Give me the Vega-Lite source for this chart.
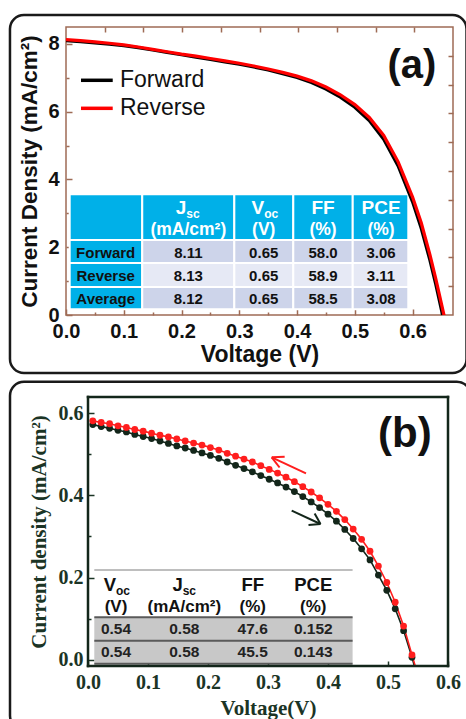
{
  "$schema": "https://vega.github.io/schema/vega-lite/v6.json",
  "background": "white",
  "padding": {"left": 6, "top": 13, "right": 0, "bottom": 0},
  "spacing": 3,
  "config": {
    "view": {"stroke": null},
    "axis": {"grid": false, "domain": false, "labelFlush": false, "labelOverlap": false}
  },
  "resolve": {"scale": {"color": "independent", "fill": "independent"}, "legend": {"color": "independent"}},
  "datasets": {
    "frameA": [{"x1": -0.097, "x2": 0.6934, "y1": -1.712, "y2": 8.854}],
    "frameB": [{"x1": -0.13, "x2": 0.638, "y1": -0.17, "y2": 0.6762}],
    "plotEdgesB": [
      {"x1": 0, "x2": 0.6, "y1": 0.639, "y2": 0.639},
      {"x1": 0, "x2": 0.6, "y1": -0.015, "y2": -0.015},
      {"x1": 0, "x2": 0, "y1": -0.015, "y2": 0.639},
      {"x1": 0.6, "x2": 0.6, "y1": -0.015, "y2": 0.639}
    ],
    "curvesA": [
      {"V": 0.000, "J": 8.10, "scan": "Forward"}, {"V": 0.025, "J": 8.07, "scan": "Forward"},
      {"V": 0.050, "J": 8.03, "scan": "Forward"}, {"V": 0.075, "J": 7.99, "scan": "Forward"},
      {"V": 0.100, "J": 7.95, "scan": "Forward"}, {"V": 0.125, "J": 7.89, "scan": "Forward"},
      {"V": 0.150, "J": 7.82, "scan": "Forward"}, {"V": 0.175, "J": 7.75, "scan": "Forward"},
      {"V": 0.200, "J": 7.68, "scan": "Forward"}, {"V": 0.225, "J": 7.61, "scan": "Forward"},
      {"V": 0.250, "J": 7.54, "scan": "Forward"}, {"V": 0.275, "J": 7.47, "scan": "Forward"},
      {"V": 0.300, "J": 7.40, "scan": "Forward"}, {"V": 0.325, "J": 7.32, "scan": "Forward"},
      {"V": 0.350, "J": 7.23, "scan": "Forward"}, {"V": 0.375, "J": 7.12, "scan": "Forward"},
      {"V": 0.400, "J": 7.01, "scan": "Forward"}, {"V": 0.425, "J": 6.86, "scan": "Forward"},
      {"V": 0.450, "J": 6.67, "scan": "Forward"}, {"V": 0.475, "J": 6.43, "scan": "Forward"},
      {"V": 0.500, "J": 6.13, "scan": "Forward"}, {"V": 0.525, "J": 5.74, "scan": "Forward"},
      {"V": 0.550, "J": 5.19, "scan": "Forward"}, {"V": 0.575, "J": 4.40, "scan": "Forward"},
      {"V": 0.600, "J": 3.34, "scan": "Forward"}, {"V": 0.615, "J": 2.56, "scan": "Forward"},
      {"V": 0.630, "J": 1.62, "scan": "Forward"}, {"V": 0.640, "J": 0.92, "scan": "Forward"},
      {"V": 0.650, "J": 0.15, "scan": "Forward"}, {"V": 0.653, "J": -0.08, "scan": "Forward"},
      {"V": 0.658, "J": -0.45, "scan": "Forward"},
      {"V": 0.000, "J": 8.13, "scan": "Reverse"}, {"V": 0.025, "J": 8.10, "scan": "Reverse"},
      {"V": 0.050, "J": 8.06, "scan": "Reverse"}, {"V": 0.075, "J": 8.02, "scan": "Reverse"},
      {"V": 0.100, "J": 7.97, "scan": "Reverse"}, {"V": 0.125, "J": 7.91, "scan": "Reverse"},
      {"V": 0.150, "J": 7.84, "scan": "Reverse"}, {"V": 0.175, "J": 7.77, "scan": "Reverse"},
      {"V": 0.200, "J": 7.70, "scan": "Reverse"}, {"V": 0.225, "J": 7.64, "scan": "Reverse"},
      {"V": 0.250, "J": 7.57, "scan": "Reverse"}, {"V": 0.275, "J": 7.50, "scan": "Reverse"},
      {"V": 0.300, "J": 7.43, "scan": "Reverse"}, {"V": 0.325, "J": 7.35, "scan": "Reverse"},
      {"V": 0.350, "J": 7.26, "scan": "Reverse"}, {"V": 0.375, "J": 7.16, "scan": "Reverse"},
      {"V": 0.400, "J": 7.05, "scan": "Reverse"}, {"V": 0.425, "J": 6.91, "scan": "Reverse"},
      {"V": 0.450, "J": 6.73, "scan": "Reverse"}, {"V": 0.475, "J": 6.50, "scan": "Reverse"},
      {"V": 0.500, "J": 6.21, "scan": "Reverse"}, {"V": 0.525, "J": 5.83, "scan": "Reverse"},
      {"V": 0.550, "J": 5.30, "scan": "Reverse"}, {"V": 0.575, "J": 4.52, "scan": "Reverse"},
      {"V": 0.600, "J": 3.48, "scan": "Reverse"}, {"V": 0.615, "J": 2.72, "scan": "Reverse"},
      {"V": 0.630, "J": 1.78, "scan": "Reverse"}, {"V": 0.640, "J": 1.08, "scan": "Reverse"},
      {"V": 0.650, "J": 0.33, "scan": "Reverse"}, {"V": 0.655, "J": -0.05, "scan": "Reverse"},
      {"V": 0.660, "J": -0.45, "scan": "Reverse"}
    ],
    "legendLinesA": [
      {"x1": 0.026, "x2": 0.0809, "y": 6.927, "scan": "Forward"},
      {"x1": 0.026, "x2": 0.0809, "y": 6.10, "scan": "Reverse"}
    ],
    "legendTextA": [
      {"x": 0.0935, "y": 6.927, "text": "Forward"},
      {"x": 0.0935, "y": 6.10, "text": "Reverse"}
    ],
    "cellsA": [
      {"x1": 0.0064, "x2": 0.132, "y1": 2.214, "y2": 3.563, "kind": "head"},
      {"x1": 0.132, "x2": 0.2914, "y1": 2.214, "y2": 3.563, "kind": "head"},
      {"x1": 0.2914, "x2": 0.3935, "y1": 2.214, "y2": 3.563, "kind": "head"},
      {"x1": 0.3935, "x2": 0.4964, "y1": 2.214, "y2": 3.563, "kind": "head"},
      {"x1": 0.4964, "x2": 0.5926, "y1": 2.214, "y2": 3.563, "kind": "head"},
      {"x1": 0.0064, "x2": 0.132, "y1": 1.535, "y2": 2.214, "kind": "head"},
      {"x1": 0.0064, "x2": 0.132, "y1": 0.826, "y2": 1.535, "kind": "head"},
      {"x1": 0.0064, "x2": 0.132, "y1": 0.168, "y2": 0.826, "kind": "head"},
      {"x1": 0.132, "x2": 0.2914, "y1": 1.535, "y2": 2.214, "kind": "odd"},
      {"x1": 0.2914, "x2": 0.3935, "y1": 1.535, "y2": 2.214, "kind": "odd"},
      {"x1": 0.3935, "x2": 0.4964, "y1": 1.535, "y2": 2.214, "kind": "odd"},
      {"x1": 0.4964, "x2": 0.5926, "y1": 1.535, "y2": 2.214, "kind": "odd"},
      {"x1": 0.132, "x2": 0.2914, "y1": 0.826, "y2": 1.535, "kind": "even"},
      {"x1": 0.2914, "x2": 0.3935, "y1": 0.826, "y2": 1.535, "kind": "even"},
      {"x1": 0.3935, "x2": 0.4964, "y1": 0.826, "y2": 1.535, "kind": "even"},
      {"x1": 0.4964, "x2": 0.5926, "y1": 0.826, "y2": 1.535, "kind": "even"},
      {"x1": 0.132, "x2": 0.2914, "y1": 0.168, "y2": 0.826, "kind": "odd"},
      {"x1": 0.2914, "x2": 0.3935, "y1": 0.168, "y2": 0.826, "kind": "odd"},
      {"x1": 0.3935, "x2": 0.4964, "y1": 0.168, "y2": 0.826, "kind": "odd"},
      {"x1": 0.4964, "x2": 0.5926, "y1": 0.168, "y2": 0.826, "kind": "odd"}
    ],
    "textA": [
      {"x": 0.2083, "y": 3.167, "text": "J", "role": "h1r"},
      {"x": 0.3433, "y": 3.167, "text": "V", "role": "h1r"},
      {"x": 0.2083, "y": 2.98, "text": "sc", "role": "sub"},
      {"x": 0.3433, "y": 2.98, "text": "oc", "role": "sub"},
      {"x": 0.445, "y": 3.167, "text": "FF", "role": "h1c"},
      {"x": 0.5454, "y": 3.167, "text": "PCE", "role": "h1c"},
      {"x": 0.2118, "y": 2.51, "text": "(mA/cm²)", "role": "h2"},
      {"x": 0.3423, "y": 2.51, "text": "(V)", "role": "h2"},
      {"x": 0.445, "y": 2.51, "text": "(%)", "role": "h2"},
      {"x": 0.5454, "y": 2.51, "text": "(%)", "role": "h2"},
      {"x": 0.0687, "y": 1.839, "text": "Forward", "role": "body"},
      {"x": 0.2118, "y": 1.839, "text": "8.11", "role": "body"},
      {"x": 0.3423, "y": 1.839, "text": "0.65", "role": "body"},
      {"x": 0.445, "y": 1.839, "text": "58.0", "role": "body"},
      {"x": 0.5454, "y": 1.839, "text": "3.06", "role": "body"},
      {"x": 0.0687, "y": 1.151, "text": "Reverse", "role": "body"},
      {"x": 0.2118, "y": 1.151, "text": "8.13", "role": "body"},
      {"x": 0.3423, "y": 1.151, "text": "0.65", "role": "body"},
      {"x": 0.445, "y": 1.151, "text": "58.9", "role": "body"},
      {"x": 0.5454, "y": 1.151, "text": "3.11", "role": "body"},
      {"x": 0.0687, "y": 0.481, "text": "Average", "role": "body"},
      {"x": 0.2118, "y": 0.481, "text": "8.12", "role": "body"},
      {"x": 0.3423, "y": 0.481, "text": "0.65", "role": "body"},
      {"x": 0.445, "y": 0.481, "text": "58.5", "role": "body"},
      {"x": 0.5454, "y": 0.481, "text": "3.08", "role": "body"}
    ],
    "labelA": [{"x": 0.599, "y": 7.35, "text": "(a)"}],
    "pointsB": [
      {"V": 0.008, "J": 0.572, "sweep": "Forward"}, {"V": 0.022, "J": 0.567, "sweep": "Forward"},
      {"V": 0.036, "J": 0.563, "sweep": "Forward"}, {"V": 0.050, "J": 0.558, "sweep": "Forward"},
      {"V": 0.064, "J": 0.554, "sweep": "Forward"}, {"V": 0.078, "J": 0.548, "sweep": "Forward"},
      {"V": 0.092, "J": 0.543, "sweep": "Forward"}, {"V": 0.106, "J": 0.538, "sweep": "Forward"},
      {"V": 0.120, "J": 0.532, "sweep": "Forward"}, {"V": 0.134, "J": 0.526, "sweep": "Forward"},
      {"V": 0.148, "J": 0.520, "sweep": "Forward"}, {"V": 0.162, "J": 0.515, "sweep": "Forward"},
      {"V": 0.176, "J": 0.509, "sweep": "Forward"}, {"V": 0.190, "J": 0.503, "sweep": "Forward"},
      {"V": 0.204, "J": 0.497, "sweep": "Forward"}, {"V": 0.218, "J": 0.490, "sweep": "Forward"},
      {"V": 0.232, "J": 0.481, "sweep": "Forward"}, {"V": 0.246, "J": 0.473, "sweep": "Forward"},
      {"V": 0.260, "J": 0.465, "sweep": "Forward"}, {"V": 0.274, "J": 0.457, "sweep": "Forward"},
      {"V": 0.288, "J": 0.448, "sweep": "Forward"}, {"V": 0.302, "J": 0.439, "sweep": "Forward"},
      {"V": 0.316, "J": 0.430, "sweep": "Forward"}, {"V": 0.330, "J": 0.420, "sweep": "Forward"},
      {"V": 0.344, "J": 0.409, "sweep": "Forward"}, {"V": 0.358, "J": 0.397, "sweep": "Forward"},
      {"V": 0.372, "J": 0.384, "sweep": "Forward"}, {"V": 0.386, "J": 0.370, "sweep": "Forward"},
      {"V": 0.400, "J": 0.354, "sweep": "Forward"}, {"V": 0.414, "J": 0.337, "sweep": "Forward"},
      {"V": 0.428, "J": 0.317, "sweep": "Forward"}, {"V": 0.442, "J": 0.295, "sweep": "Forward"},
      {"V": 0.456, "J": 0.270, "sweep": "Forward"}, {"V": 0.470, "J": 0.243, "sweep": "Forward"},
      {"V": 0.484, "J": 0.206, "sweep": "Forward"}, {"V": 0.498, "J": 0.169, "sweep": "Forward"},
      {"V": 0.512, "J": 0.124, "sweep": "Forward"}, {"V": 0.526, "J": 0.071, "sweep": "Forward"},
      {"V": 0.540, "J": 0.006, "sweep": "Forward"}, {"V": 0.552, "J": -0.058, "sweep": "Forward"},
      {"V": 0.008, "J": 0.581, "sweep": "Reverse"}, {"V": 0.022, "J": 0.577, "sweep": "Reverse"},
      {"V": 0.036, "J": 0.574, "sweep": "Reverse"}, {"V": 0.050, "J": 0.569, "sweep": "Reverse"},
      {"V": 0.064, "J": 0.565, "sweep": "Reverse"}, {"V": 0.078, "J": 0.560, "sweep": "Reverse"},
      {"V": 0.092, "J": 0.556, "sweep": "Reverse"}, {"V": 0.106, "J": 0.551, "sweep": "Reverse"},
      {"V": 0.120, "J": 0.546, "sweep": "Reverse"}, {"V": 0.134, "J": 0.542, "sweep": "Reverse"},
      {"V": 0.148, "J": 0.537, "sweep": "Reverse"}, {"V": 0.162, "J": 0.532, "sweep": "Reverse"},
      {"V": 0.176, "J": 0.527, "sweep": "Reverse"}, {"V": 0.190, "J": 0.522, "sweep": "Reverse"},
      {"V": 0.204, "J": 0.516, "sweep": "Reverse"}, {"V": 0.218, "J": 0.510, "sweep": "Reverse"},
      {"V": 0.232, "J": 0.502, "sweep": "Reverse"}, {"V": 0.246, "J": 0.495, "sweep": "Reverse"},
      {"V": 0.260, "J": 0.488, "sweep": "Reverse"}, {"V": 0.274, "J": 0.481, "sweep": "Reverse"},
      {"V": 0.288, "J": 0.472, "sweep": "Reverse"}, {"V": 0.302, "J": 0.463, "sweep": "Reverse"},
      {"V": 0.316, "J": 0.454, "sweep": "Reverse"}, {"V": 0.330, "J": 0.444, "sweep": "Reverse"},
      {"V": 0.344, "J": 0.433, "sweep": "Reverse"}, {"V": 0.358, "J": 0.421, "sweep": "Reverse"},
      {"V": 0.372, "J": 0.408, "sweep": "Reverse"}, {"V": 0.386, "J": 0.394, "sweep": "Reverse"},
      {"V": 0.400, "J": 0.378, "sweep": "Reverse"}, {"V": 0.414, "J": 0.361, "sweep": "Reverse"},
      {"V": 0.428, "J": 0.341, "sweep": "Reverse"}, {"V": 0.442, "J": 0.318, "sweep": "Reverse"},
      {"V": 0.456, "J": 0.293, "sweep": "Reverse"}, {"V": 0.470, "J": 0.264, "sweep": "Reverse"},
      {"V": 0.484, "J": 0.228, "sweep": "Reverse"}, {"V": 0.498, "J": 0.188, "sweep": "Reverse"},
      {"V": 0.512, "J": 0.140, "sweep": "Reverse"}, {"V": 0.526, "J": 0.082, "sweep": "Reverse"},
      {"V": 0.540, "J": 0.012, "sweep": "Reverse"}, {"V": 0.554, "J": -0.058, "sweep": "Reverse"}
    ],
    "cellsB": [
      {"x1": 0.0105, "x2": 0.441, "y1": 0.0461, "y2": 0.1037},
      {"x1": 0.0105, "x2": 0.441, "y1": -0.0097, "y2": 0.0461}
    ],
    "topLineB": [{"x1": 0.0105, "x2": 0.441, "y": 0.2186}],
    "linesB": [
      {"x1": 0.0105, "x2": 0.441, "y": 0.1037},
      {"x1": 0.0105, "x2": 0.441, "y": 0.0461},
      {"x1": 0.0105, "x2": 0.441, "y": -0.0097}
    ],
    "textB": [
      {"x": 0.0467, "y": 0.181, "text": "V", "role": "h1r"},
      {"x": 0.1578, "y": 0.181, "text": "J", "role": "h1r"},
      {"x": 0.0467, "y": 0.168, "text": "oc", "role": "sub"},
      {"x": 0.1578, "y": 0.168, "text": "sc", "role": "sub"},
      {"x": 0.2745, "y": 0.181, "text": "FF", "role": "h1c"},
      {"x": 0.3755, "y": 0.181, "text": "PCE", "role": "h1c"},
      {"x": 0.0467, "y": 0.1295, "text": "(V)", "role": "h2"},
      {"x": 0.1605, "y": 0.1295, "text": "(mA/cm²)", "role": "h2"},
      {"x": 0.2745, "y": 0.1295, "text": "(%)", "role": "h2"},
      {"x": 0.3755, "y": 0.1295, "text": "(%)", "role": "h2"},
      {"x": 0.0467, "y": 0.0753, "text": "0.54", "role": "body"},
      {"x": 0.1605, "y": 0.0753, "text": "0.58", "role": "body"},
      {"x": 0.2745, "y": 0.0753, "text": "47.6", "role": "body"},
      {"x": 0.3755, "y": 0.0753, "text": "0.152", "role": "body"},
      {"x": 0.0467, "y": 0.0194, "text": "0.54", "role": "body"},
      {"x": 0.1605, "y": 0.0194, "text": "0.58", "role": "body"},
      {"x": 0.2745, "y": 0.0194, "text": "45.5", "role": "body"},
      {"x": 0.3755, "y": 0.0194, "text": "0.143", "role": "body"}
    ],
    "arrowsB": [
      {"x": 0.3633, "y": 0.4535, "x2": 0.3062, "y2": 0.4924, "sweep": "Reverse"},
      {"x": 0.3062, "y": 0.4924, "x2": 0.3193, "y2": 0.4676, "sweep": "Reverse"},
      {"x": 0.3062, "y": 0.4924, "x2": 0.3278, "y2": 0.4938, "sweep": "Reverse"},
      {"x": 0.3395, "y": 0.3626, "x2": 0.3875, "y2": 0.3303, "sweep": "Forward"},
      {"x": 0.3875, "y": 0.3303, "x2": 0.3777, "y2": 0.3556, "sweep": "Forward"},
      {"x": 0.3875, "y": 0.3303, "x2": 0.3675, "y2": 0.3279, "sweep": "Forward"}
    ],
    "labelB": [{"x": 0.528, "y": 0.549, "text": "(b)"}]
  },
  "vconcat": [
    {
      "hconcat": [
        {"width": 1, "height": 1, "data": {"values": []}, "mark": "point", "encoding": {}},
        {
          "width": 387,
          "height": 288,
          "view": {"stroke": "#9e6b55", "strokeWidth": 1.5},
          "resolve": {"axis": {"x": "independent", "y": "independent"}},
          "layer": [
            {
              "data": {"name": "frameA"},
              "mark": {"type": "rect", "filled": false, "stroke": "#1a1a1a", "strokeWidth": 2.5, "cornerRadius": 14, "clip": false},
              "encoding": {
                "x": {"field": "x1", "type": "quantitative", "scale": {"domain": [0, 0.67], "nice": false, "zero": false}, "axis": null},
                "x2": {"field": "x2"},
                "y": {"field": "y1", "type": "quantitative", "scale": {"domain": [0, 8.5], "nice": false, "zero": false}, "axis": null},
                "y2": {"field": "y2"}
              }
            },
            {
              "data": {"name": "cellsA"},
              "mark": {"type": "rect", "stroke": "white", "strokeWidth": 2},
              "encoding": {
                "x": {"field": "x1", "type": "quantitative", "scale": {"domain": [0, 0.67], "nice": false, "zero": false}, "axis": null},
                "x2": {"field": "x2"},
                "y": {"field": "y1", "type": "quantitative", "scale": {"domain": [0, 8.5], "nice": false, "zero": false}, "axis": null},
                "y2": {"field": "y2"},
                "fill": {"field": "kind", "type": "nominal", "scale": {"domain": ["head", "odd", "even"], "range": ["#00b0e8", "#cdd4ea", "#e6e9f5"]}, "legend": null}
              }
            },
            {
              "data": {"name": "curvesA"},
              "mark": {"type": "line", "strokeWidth": 3.2, "clip": true},
              "encoding": {
                "x": {"field": "V", "type": "quantitative", "scale": {"domain": [0, 0.67], "nice": false, "zero": false},
                  "axis": {"values": [0, 0.1, 0.2, 0.3, 0.4, 0.5, 0.6], "format": ".1f", "title": "Voltage (V)",
                    "labelFont": "Liberation Sans", "labelFontWeight": "bold", "labelFontSize": 20, "labelColor": "#111",
                    "titleFont": "Liberation Sans", "titleFontWeight": "bold", "titleFontSize": 23, "titleColor": "#111",
                    "tickColor": "#9e6b55", "tickSize": -6, "tickWidth": 1.5, "labelPadding": 12, "titlePadding": 2}},
                "y": {"field": "J", "type": "quantitative", "scale": {"domain": [0, 8.5], "nice": false, "zero": false},
                  "axis": {"values": [0, 2, 4, 6, 8], "format": "d", "title": "Current Density (mA/cm²)",
                    "labelFont": "Liberation Sans", "labelFontWeight": "bold", "labelFontSize": 20, "labelColor": "#111",
                    "titleFont": "Liberation Sans", "titleFontWeight": "bold", "titleFontSize": 22.5, "titleColor": "#111",
                    "tickColor": "#9e6b55", "tickSize": -6, "tickWidth": 1.5, "labelPadding": 13, "titlePadding": 6}},
                "color": {"field": "scan", "type": "nominal",
                  "scale": {"domain": ["Forward", "Reverse"], "range": ["#000000", "#ff0000"]}, "legend": null}
              }
            },
            {
              "data": {"name": "legendLinesA"},
              "mark": {"type": "rule", "strokeWidth": 3.5},
              "encoding": {
                "x": {"field": "x1", "type": "quantitative", "scale": {"domain": [0, 0.67], "nice": false, "zero": false}, "axis": null},
                "x2": {"field": "x2"},
                "y": {"field": "y", "type": "quantitative", "scale": {"domain": [0, 8.5], "nice": false, "zero": false}, "axis": null},
                "color": {"field": "scan", "type": "nominal",
                  "scale": {"domain": ["Forward", "Reverse"], "range": ["#000000", "#ff0000"]}, "legend": null}
              }
            },
            {
              "data": {"name": "legendTextA"},
              "mark": {"type": "text", "align": "left", "baseline": "middle", "font": "Liberation Sans", "fontSize": 23, "color": "#111"},
              "encoding": {
                "x": {"field": "x", "type": "quantitative", "scale": {"domain": [0, 0.67], "nice": false, "zero": false},
                  "axis": {"orient": "bottom", "values": [0.05, 0.15, 0.25, 0.35, 0.45, 0.55, 0.65], "labels": false, "title": null, "tickSize": -3, "tickWidth": 1.5, "tickColor": "#9e6b55"}},
                "y": {"field": "y", "type": "quantitative", "scale": {"domain": [0, 8.5], "nice": false, "zero": false},
                  "axis": {"orient": "left", "values": [1, 3, 5, 7], "labels": false, "title": null, "tickSize": -3, "tickWidth": 1.5, "tickColor": "#9e6b55"}},
                "text": {"field": "text"}
              }
            },
            {
              "data": {"name": "textA"},
              "transform": [{"filter": "datum.role === 'h1r'"}],
              "mark": {"type": "text", "align": "right", "baseline": "middle", "font": "Liberation Sans", "fontWeight": "bold", "fontSize": 19, "color": "white"},
              "encoding": {
                "x": {"field": "x", "type": "quantitative", "scale": {"domain": [0, 0.67], "nice": false, "zero": false}, "axis": null},
                "y": {"field": "y", "type": "quantitative", "scale": {"domain": [0, 8.5], "nice": false, "zero": false}, "axis": null},
                "text": {"field": "text"}
              }
            },
            {
              "data": {"name": "textA"},
              "transform": [{"filter": "datum.role === 'sub'"}],
              "mark": {"type": "text", "align": "left", "baseline": "middle", "font": "Liberation Sans", "fontWeight": "bold", "fontSize": 12, "color": "white"},
              "encoding": {
                "x": {"field": "x", "type": "quantitative", "scale": {"domain": [0, 0.67], "nice": false, "zero": false}, "axis": null},
                "y": {"field": "y", "type": "quantitative", "scale": {"domain": [0, 8.5], "nice": false, "zero": false}, "axis": null},
                "text": {"field": "text"}
              }
            },
            {
              "data": {"name": "textA"},
              "transform": [{"filter": "datum.role === 'h1c'"}],
              "mark": {"type": "text", "align": "center", "baseline": "middle", "font": "Liberation Sans", "fontWeight": "bold", "fontSize": 19, "color": "white"},
              "encoding": {
                "x": {"field": "x", "type": "quantitative", "scale": {"domain": [0, 0.67], "nice": false, "zero": false}, "axis": null},
                "y": {"field": "y", "type": "quantitative", "scale": {"domain": [0, 8.5], "nice": false, "zero": false}, "axis": null},
                "text": {"field": "text"}
              }
            },
            {
              "data": {"name": "textA"},
              "transform": [{"filter": "datum.role === 'h2'"}],
              "mark": {"type": "text", "align": "center", "baseline": "middle", "font": "Liberation Sans", "fontWeight": "bold", "fontSize": 17.5, "color": "white"},
              "encoding": {
                "x": {"field": "x", "type": "quantitative", "scale": {"domain": [0, 0.67], "nice": false, "zero": false}, "axis": null},
                "y": {"field": "y", "type": "quantitative", "scale": {"domain": [0, 8.5], "nice": false, "zero": false}, "axis": null},
                "text": {"field": "text"}
              }
            },
            {
              "data": {"name": "textA"},
              "transform": [{"filter": "datum.role === 'body'"}],
              "mark": {"type": "text", "align": "center", "baseline": "middle", "font": "Liberation Sans", "fontWeight": "bold", "fontSize": 15, "color": "#111"},
              "encoding": {
                "x": {"field": "x", "type": "quantitative", "scale": {"domain": [0, 0.67], "nice": false, "zero": false}, "axis": null},
                "y": {"field": "y", "type": "quantitative", "scale": {"domain": [0, 8.5], "nice": false, "zero": false}, "axis": null},
                "text": {"field": "text"}
              }
            },
            {
              "data": {"name": "labelA"},
              "mark": {"type": "text", "align": "center", "baseline": "middle", "font": "Liberation Sans", "fontWeight": "bold", "fontSize": 40, "color": "#111"},
              "encoding": {
                "x": {"field": "x", "type": "quantitative", "scale": {"domain": [0, 0.67], "nice": false, "zero": false},
                  "axis": {"orient": "top", "values": [0.067, 0.134, 0.201, 0.268, 0.335, 0.402, 0.469, 0.536, 0.603], "labels": false, "title": null, "tickSize": -5, "tickWidth": 1.5, "tickColor": "#9e6b55"}},
                "y": {"field": "y", "type": "quantitative", "scale": {"domain": [0, 8.5], "nice": false, "zero": false},
                  "axis": {"orient": "right", "values": [0.85, 1.7, 2.55, 3.4, 4.25, 5.1, 5.95, 6.8, 7.65], "labels": false, "title": null, "tickSize": -5, "tickWidth": 1.5, "tickColor": "#9e6b55"}},
                "text": {"field": "text"}
              }
            }
          ]
        }
      ],
      "spacing": 0
    },
    {
      "hconcat": [
        {"width": 1, "height": 1, "data": {"values": []}, "mark": "point", "encoding": {}},
        {
          "width": 360,
          "height": 269,
          "view": {"stroke": "#1b3425", "strokeWidth": 2},
          "resolve": {"axis": {"x": "independent", "y": "independent"}},
          "layer": [
            {
              "data": {"name": "frameB"},
              "mark": {"type": "rect", "filled": false, "stroke": "#1a1a1a", "strokeWidth": 2.5, "cornerRadius": 14, "clip": false},
              "encoding": {
                "x": {"field": "x1", "type": "quantitative", "scale": {"domain": [0, 0.6], "nice": false, "zero": false}, "axis": null},
                "x2": {"field": "x2"},
                "y": {"field": "y1", "type": "quantitative", "scale": {"domain": [-0.015, 0.639], "nice": false, "zero": false}, "axis": null},
                "y2": {"field": "y2"}
              }
            },
            {
              "data": {"name": "cellsB"},
              "mark": {"type": "rect", "color": "#c8c8c8"},
              "encoding": {
                "x": {"field": "x1", "type": "quantitative", "scale": {"domain": [0, 0.6], "nice": false, "zero": false}, "axis": null},
                "x2": {"field": "x2"},
                "y": {"field": "y1", "type": "quantitative", "scale": {"domain": [-0.015, 0.639], "nice": false, "zero": false}, "axis": null},
                "y2": {"field": "y2"}
              }
            },
            {
              "data": {"name": "topLineB"},
              "mark": {"type": "rule", "color": "#a8a8a8", "strokeWidth": 1.5},
              "encoding": {
                "x": {"field": "x1", "type": "quantitative", "scale": {"domain": [0, 0.6], "nice": false, "zero": false}, "axis": null},
                "x2": {"field": "x2"},
                "y": {"field": "y", "type": "quantitative", "scale": {"domain": [-0.015, 0.639], "nice": false, "zero": false}, "axis": null}
              }
            },
            {
              "data": {"name": "linesB"},
              "mark": {"type": "rule", "color": "#5a5a5a", "strokeWidth": 2},
              "encoding": {
                "x": {"field": "x1", "type": "quantitative", "scale": {"domain": [0, 0.6], "nice": false, "zero": false}, "axis": null},
                "x2": {"field": "x2"},
                "y": {"field": "y", "type": "quantitative", "scale": {"domain": [-0.015, 0.639], "nice": false, "zero": false}, "axis": null}
              }
            },
            {
              "data": {"name": "pointsB"},
              "mark": {"type": "line", "strokeWidth": 1.6, "clip": true},
              "encoding": {
                "x": {"field": "V", "type": "quantitative", "scale": {"domain": [0, 0.6], "nice": false, "zero": false}, "axis": null},
                "y": {"field": "J", "type": "quantitative", "scale": {"domain": [-0.015, 0.639], "nice": false, "zero": false}, "axis": null},
                "color": {"field": "sweep", "type": "nominal", "scale": {"domain": ["Forward", "Reverse"], "range": ["#13261a", "#ff1e1e"]}, "legend": null}
              }
            },
            {
              "data": {"name": "pointsB"},
              "mark": {"type": "point", "shape": "circle", "filled": true, "size": 46, "opacity": 1, "clip": true},
              "encoding": {
                "x": {"field": "V", "type": "quantitative", "scale": {"domain": [0, 0.6], "nice": false, "zero": false},
                  "axis": {"values": [0, 0.1, 0.2, 0.3, 0.4, 0.5, 0.6], "format": ".1f", "title": "Voltage(V)",
                    "labelFont": "Liberation Serif", "labelFontWeight": "bold", "labelFontSize": 20, "labelColor": "#1b3425",
                    "titleFont": "Liberation Serif", "titleFontWeight": "bold", "titleFontSize": 21, "titleColor": "#1b3425",
                    "tickColor": "#1b3425", "tickSize": -5, "tickWidth": 1.5, "labelPadding": 11, "titlePadding": 5}},
                "y": {"field": "J", "type": "quantitative", "scale": {"domain": [-0.015, 0.639], "nice": false, "zero": false},
                  "axis": {"values": [0, 0.2, 0.4, 0.6], "format": ".1f", "title": "Current density (mA/cm²)",
                    "labelFont": "Liberation Serif", "labelFontWeight": "bold", "labelFontSize": 20, "labelColor": "#1b3425",
                    "titleFont": "Liberation Serif", "titleFontWeight": "bold", "titleFontSize": 21, "titleColor": "#1b3425",
                    "tickColor": "#1b3425", "tickSize": -6, "tickWidth": 1.5, "labelPadding": 11, "titlePadding": 9}},
                "color": {"field": "sweep", "type": "nominal", "scale": {"domain": ["Forward", "Reverse"], "range": ["#13261a", "#ff1e1e"]}, "legend": null}
              }
            },
            {
              "data": {"name": "arrowsB"},
              "mark": {"type": "rule", "strokeWidth": 2},
              "encoding": {
                "x": {"field": "x", "type": "quantitative", "scale": {"domain": [0, 0.6], "nice": false, "zero": false}, "axis": null},
                "x2": {"field": "x2"},
                "y": {"field": "y", "type": "quantitative", "scale": {"domain": [-0.015, 0.639], "nice": false, "zero": false}, "axis": null},
                "y2": {"field": "y2"},
                "color": {"field": "sweep", "type": "nominal", "scale": {"domain": ["Forward", "Reverse"], "range": ["#13261a", "#ff1e1e"]}, "legend": null}
              }
            },
            {
              "data": {"name": "textB"},
              "transform": [{"filter": "datum.role === 'h1r'"}],
              "mark": {"type": "text", "align": "right", "baseline": "middle", "font": "Liberation Sans", "fontWeight": "bold", "fontSize": 18.5, "color": "#111"},
              "encoding": {
                "x": {"field": "x", "type": "quantitative", "scale": {"domain": [0, 0.6], "nice": false, "zero": false}, "axis": null},
                "y": {"field": "y", "type": "quantitative", "scale": {"domain": [-0.015, 0.639], "nice": false, "zero": false}, "axis": null},
                "text": {"field": "text"}
              }
            },
            {
              "data": {"name": "textB"},
              "transform": [{"filter": "datum.role === 'sub'"}],
              "mark": {"type": "text", "align": "left", "baseline": "middle", "font": "Liberation Sans", "fontWeight": "bold", "fontSize": 12, "color": "#111"},
              "encoding": {
                "x": {"field": "x", "type": "quantitative", "scale": {"domain": [0, 0.6], "nice": false, "zero": false}, "axis": null},
                "y": {"field": "y", "type": "quantitative", "scale": {"domain": [-0.015, 0.639], "nice": false, "zero": false}, "axis": null},
                "text": {"field": "text"}
              }
            },
            {
              "data": {"name": "textB"},
              "transform": [{"filter": "datum.role === 'h1c'"}],
              "mark": {"type": "text", "align": "center", "baseline": "middle", "font": "Liberation Sans", "fontWeight": "bold", "fontSize": 18.5, "color": "#111"},
              "encoding": {
                "x": {"field": "x", "type": "quantitative", "scale": {"domain": [0, 0.6], "nice": false, "zero": false}, "axis": null},
                "y": {"field": "y", "type": "quantitative", "scale": {"domain": [-0.015, 0.639], "nice": false, "zero": false}, "axis": null},
                "text": {"field": "text"}
              }
            },
            {
              "data": {"name": "textB"},
              "transform": [{"filter": "datum.role === 'h2'"}],
              "mark": {"type": "text", "align": "center", "baseline": "middle", "font": "Liberation Sans", "fontWeight": "bold", "fontSize": 17, "color": "#111"},
              "encoding": {
                "x": {"field": "x", "type": "quantitative", "scale": {"domain": [0, 0.6], "nice": false, "zero": false}, "axis": null},
                "y": {"field": "y", "type": "quantitative", "scale": {"domain": [-0.015, 0.639], "nice": false, "zero": false}, "axis": null},
                "text": {"field": "text"}
              }
            },
            {
              "data": {"name": "textB"},
              "transform": [{"filter": "datum.role === 'body'"}],
              "mark": {"type": "text", "align": "center", "baseline": "middle", "font": "Liberation Sans", "fontWeight": "bold", "fontSize": 15.5, "color": "#222"},
              "encoding": {
                "x": {"field": "x", "type": "quantitative", "scale": {"domain": [0, 0.6], "nice": false, "zero": false}, "axis": null},
                "y": {"field": "y", "type": "quantitative", "scale": {"domain": [-0.015, 0.639], "nice": false, "zero": false}, "axis": null},
                "text": {"field": "text"}
              }
            },
            {
              "data": {"name": "labelB"},
              "mark": {"type": "text", "align": "center", "baseline": "middle", "font": "Liberation Sans", "fontWeight": "bold", "fontSize": 42, "color": "#111"},
              "encoding": {
                "x": {"field": "x", "type": "quantitative", "scale": {"domain": [0, 0.6], "nice": false, "zero": false}, "axis": null},
                "y": {"field": "y", "type": "quantitative", "scale": {"domain": [-0.015, 0.639], "nice": false, "zero": false},
                  "axis": {"orient": "left", "values": [0.1, 0.3, 0.5], "labels": false, "title": null, "tickSize": -3, "tickWidth": 1.5, "tickColor": "#1b3425"}},
                "text": {"field": "text"}
              }
            },
            {
              "data": {"name": "plotEdgesB"},
              "mark": {"type": "rule", "color": "#13261a", "strokeWidth": 2.5, "strokeCap": "square", "clip": false},
              "encoding": {
                "x": {"field": "x1", "type": "quantitative", "scale": {"domain": [0, 0.6], "nice": false, "zero": false}, "axis": null},
                "x2": {"field": "x2"},
                "y": {"field": "y1", "type": "quantitative", "scale": {"domain": [-0.015, 0.639], "nice": false, "zero": false}, "axis": null},
                "y2": {"field": "y2"}
              }
            }
          ]
        }
      ],
      "spacing": 0
    }
  ]
}
